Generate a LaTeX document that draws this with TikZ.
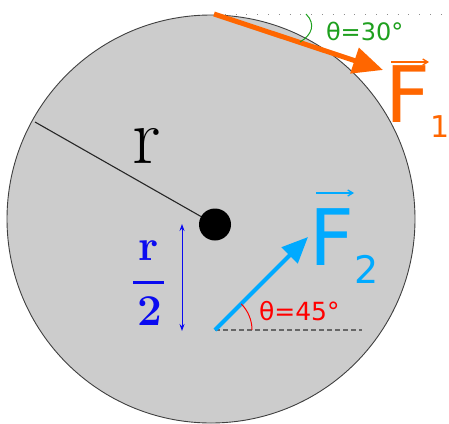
\documentclass[tikz,border=0pt]{standalone}
\usepackage{fontspec}
\usetikzlibrary{arrows.meta}
\newfontfamily\dvs{DejaVu Sans}
\definecolor{diskgray}{HTML}{CCCCCC}
\definecolor{forceorange}{RGB}{255,102,0}
\definecolor{forceblue}{RGB}{0,170,255}
\definecolor{anggreen}{RGB}{30,160,30}
\definecolor{fracblue}{RGB}{10,10,240}
\tikzset{
  lbl/.style={inner sep=0pt, outer sep=0pt},
  vecbar/.style={line width=1.3pt, -{Straight Barb[length=5pt,width=6pt]}},
}
\begin{document}
\begin{tikzpicture}[x=1pt,y=-1pt]
\useasboundingbox (0,0) rectangle (449,423);
\fill[white] (0,0) rectangle (449,423);
% disk
\coordinate (disk) at (211,219);
\filldraw[fill=diskgray, draw=black!75, line width=0.9pt] (disk) circle[radius=204];
% centre dot and radius line
\coordinate (ctr) at (215,224.5);
\coordinate (rim) at (35,122);
\draw[black!85, line width=1.1pt] (rim) -- (ctr);
\fill[black] (ctr) circle[radius=16];
\node[lbl, anchor=base west, font=\fontsize{80}{80}\selectfont] (rlab) at (132,163) {r};
% r/2
\node[lbl, anchor=base, text=fracblue, font=\fontsize{44}{44}\selectfont\bfseries] (fr) at (149,260) {r};
\coordinate (barL) at (133,282);
\coordinate (barR) at (164,282);
\draw[fracblue, line width=3pt] (barL) -- (barR);
\node[lbl, anchor=base, text=fracblue, font=\fontsize{44}{44}\selectfont\bfseries] (f2) at (150,325) {2};
\coordinate (hA) at (182,224);
\coordinate (hB) at (182,331);
\draw[fracblue, line width=0.9pt, {Stealth[length=7pt,width=5pt]}-{Stealth[length=7pt,width=5pt]}] (hA) -- (hB);
% F1
\coordinate (p1) at (214,14);
\coordinate (t1) at (383,70);
\coordinate (h1) at (445,14);
\draw[black!45, line width=0.8pt, dash pattern=on 0.8pt off 10pt] (p1) -- (h1);
\draw[forceorange, line width=5pt, -{Triangle[length=30pt,width=26pt]}] (p1) -- (t1);
\coordinate (g1) at (306,14);
\coordinate (g2) at (300,42);
\draw[anggreen, line width=1pt] (g1) .. controls (316,24) and (312,35) .. (g2);
\node[lbl, anchor=base west, text=anggreen, font=\dvs\fontsize{24}{24}\selectfont] (th30) at (326,40) {θ=30°};
\node[lbl, anchor=base west, text=forceorange, font=\dvs\fontsize{78}{78}\selectfont] (F1) at (385,122) {F};
\node[lbl, anchor=base west, text=forceorange, font=\dvs\fontsize{30}{30}\selectfont] (s1) at (430,137) {1};
\coordinate (v1a) at (391,62);
\coordinate (v1b) at (429,62);
\draw[forceorange, vecbar] (v1a) -- (v1b);
% F2
\coordinate (p2) at (215,330);
\coordinate (t2) at (308,237);
\coordinate (h2) at (362,330);
\coordinate (a2) at (252,330);
\draw[black!60, line width=1.4pt, dash pattern=on 5pt off 3pt] (p2) -- (h2);
\draw[forceblue, line width=4pt, -{Triangle[length=26pt,width=22pt]}] (p2) -- (t2);
\draw[red, line width=1pt] (a2) arc[start angle=0, end angle=-45, radius=37];
\node[lbl, anchor=base west, text=red, font=\dvs\fontsize{25}{25}\selectfont] (th45) at (259,320) {θ=45°};
\node[lbl, anchor=base west, text=forceblue, font=\dvs\fontsize{78}{78}\selectfont] (F2) at (309,265) {F};
\node[lbl, anchor=base west, text=forceblue, font=\dvs\fontsize{38}{38}\selectfont] (s2) at (354,283) {2};
\coordinate (v2a) at (316,193);
\coordinate (v2b) at (354,193);
\draw[forceblue, vecbar] (v2a) -- (v2b);
\end{tikzpicture}
\end{document}
